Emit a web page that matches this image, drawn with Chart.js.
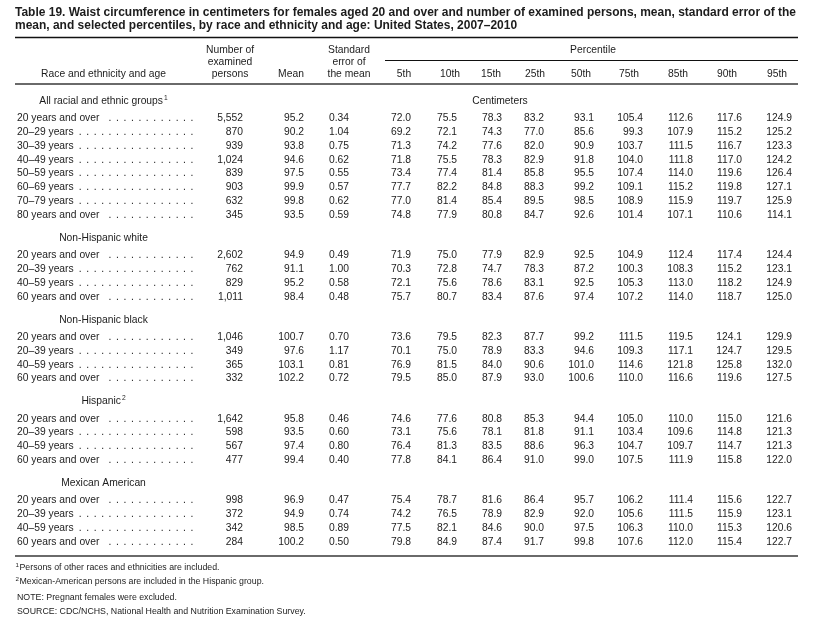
<!DOCTYPE html>
<html><head><meta charset="utf-8">
<script src="https://cdn.jsdelivr.net/npm/chart.js@4.4.1/dist/chart.umd.min.js"></script>
<style>html,body{margin:0;padding:0;background:#fff}canvas{display:block}</style>
</head><body>
<canvas id="c" width="817" height="621"></canvas>
<script>
// ---------------- DATA ----------------
const titleLines = [
  "Table 19. Waist circumference in centimeters for females aged 20 and over and number of examined persons, mean, standard error of the",
  "mean, and selected percentiles, by race and ethnicity and age: United States, 2007\u20132010"
];
const groupNames = ["All racial and ethnic groups", "Non-Hispanic white", "Non-Hispanic black", "Hispanic", "Mexican American"];
const groupNoteMarks = ["1", "", "", "2", ""];
const agesAll = ["20 years and over", "20\u201329 years", "30\u201339 years", "40\u201349 years", "50\u201359 years", "60\u201369 years", "70\u201379 years", "80 years and over"];
const agesBroad = ["20 years and over", "20\u201339 years", "40\u201359 years", "60 years and over"];
const groupAges = [agesAll, agesBroad, agesBroad, agesBroad, agesBroad];

const examined = [5552, 870, 939, 1024, 839, 903, 632, 345, 2602, 762, 829, 1011, 1046, 349, 365, 332, 1642, 598, 567, 477, 998, 372, 342, 284];
const mean = [95.2, 90.2, 93.8, 94.6, 97.5, 99.9, 99.8, 93.5, 94.9, 91.1, 95.2, 98.4, 100.7, 97.6, 103.1, 102.2, 95.8, 93.5, 97.4, 99.4, 96.9, 94.9, 98.5, 100.2];
const stdErr = [0.34, 1.04, 0.75, 0.62, 0.55, 0.57, 0.62, 0.59, 0.49, 1.00, 0.58, 0.48, 0.70, 1.17, 0.81, 0.72, 0.46, 0.60, 0.80, 0.40, 0.47, 0.74, 0.89, 0.50];
const p5 = [72.0, 69.2, 71.3, 71.8, 73.4, 77.7, 77.0, 74.8, 71.9, 70.3, 72.1, 75.7, 73.6, 70.1, 76.9, 79.5, 74.6, 73.1, 76.4, 77.8, 75.4, 74.2, 77.5, 79.8];
const p10 = [75.5, 72.1, 74.2, 75.5, 77.4, 82.2, 81.4, 77.9, 75.0, 72.8, 75.6, 80.7, 79.5, 75.0, 81.5, 85.0, 77.6, 75.6, 81.3, 84.1, 78.7, 76.5, 82.1, 84.9];
const p15 = [78.3, 74.3, 77.6, 78.3, 81.4, 84.8, 85.4, 80.8, 77.9, 74.7, 78.6, 83.4, 82.3, 78.9, 84.0, 87.9, 80.8, 78.1, 83.5, 86.4, 81.6, 78.9, 84.6, 87.4];
const p25 = [83.2, 77.0, 82.0, 82.9, 85.8, 88.3, 89.5, 84.7, 82.9, 78.3, 83.1, 87.6, 87.7, 83.3, 90.6, 93.0, 85.3, 81.8, 88.6, 91.0, 86.4, 82.9, 90.0, 91.7];
const p50 = [93.1, 85.6, 90.9, 91.8, 95.5, 99.2, 98.5, 92.6, 92.5, 87.2, 92.5, 97.4, 99.2, 94.6, 101.0, 100.6, 94.4, 91.1, 96.3, 99.0, 95.7, 92.0, 97.5, 99.8];
const p75 = [105.4, 99.3, 103.7, 104.0, 107.4, 109.1, 108.9, 101.4, 104.9, 100.3, 105.3, 107.2, 111.5, 109.3, 114.6, 110.0, 105.0, 103.4, 104.7, 107.5, 106.2, 105.6, 106.3, 107.6];
const p85 = [112.6, 107.9, 111.5, 111.8, 114.0, 115.2, 115.9, 107.1, 112.4, 108.3, 113.0, 114.0, 119.5, 117.1, 121.8, 116.6, 110.0, 109.6, 109.7, 111.9, 111.4, 111.5, 110.0, 112.0];
const p90 = [117.6, 115.2, 116.7, 117.0, 119.6, 119.8, 119.7, 110.6, 117.4, 115.2, 118.2, 118.7, 124.1, 124.7, 125.8, 119.6, 115.0, 114.8, 114.7, 115.8, 115.6, 115.9, 115.3, 115.4];
const p95 = [124.9, 125.2, 123.3, 124.2, 126.4, 127.1, 125.9, 114.1, 124.4, 123.1, 124.9, 125.0, 129.9, 129.5, 132.0, 127.5, 121.6, 121.3, 121.3, 122.0, 122.7, 123.1, 120.6, 122.7];

const labelHead = "Race and ethnicity and age";
const examinedHead = ["Number of", "examined", "persons"];
const meanHead = ["Mean"];
const stdErrHead = ["Standard", "error of", "the mean"];
const percentileHead = "Percentile";
const percentileLabels = ["5th", "10th", "15th", "25th", "50th", "75th", "85th", "90th", "95th"];
const unitLabel = "Centimeters";
const footnotes = [
  { mark: "1", text: "Persons of other races and ethnicities are included." },
  { mark: "2", text: "Mexican-American persons are included in the Hispanic group." },
  { mark: "",  text: "NOTE: Pregnant females were excluded." },
  { mark: "",  text: "SOURCE: CDC/NCHS, National Health and Nutrition Examination Survey." }
];

// ---------------- LAYOUT / STYLE ----------------
const FONT = '"Liberation Sans", Arial, Helvetica, sans-serif';
const L = {
  W: 817, H: 621,
  ink: '#1c1c1c',
  bodySize: 10.3,
  baseShift: 3.7,
  left: 15, right: 798,
  titleSize: 12, titleY: [16, 29.4], titleWidth: 781,
  topRuleY: 37.5, pctRuleY: 60.5, pctRuleX0: 385, headRuleY: 84, bottomRuleY: 556,
  headRowY: [49.5, 61.5, 73.3],
  labelHeadX: 103.5,
  examinedHeadX: 230, meanHeadX: 291, stdErrHeadX: 349,
  percentileHeadX: 593,
  pctHeadX: [404, 450, 491, 535, 581, 629, 678, 727, 777],
  unitX: 500,
  labelX: 17, groupX: 103.5, dotsEnd: 192, dotStep: 7.45,
  colRight: [243, 304, 349, 411, 457, 502, 544, 594, 643, 693, 742, 792],
  rowStartPx: 100, rowStepPx: 13.85, headToRow: 1.25, groupGap: 1.65,
  footSize: 8.8, footX: 19.5, footY: [567, 581, 596.5, 611]
};

// ---------------- BUILD ----------------
const fmt1 = v => v.toFixed(1);
const fmt2 = v => v.toFixed(2);
const fmtN = v => v.toLocaleString('en-US');
const columns = [
  { values: examined, f: fmtN }, { values: mean, f: fmt1 }, { values: stdErr, f: fmt2 },
  { values: p5, f: fmt1 }, { values: p10, f: fmt1 }, { values: p15, f: fmt1 }, { values: p25, f: fmt1 },
  { values: p50, f: fmt1 }, { values: p75, f: fmt1 }, { values: p85, f: fmt1 }, { values: p90, f: fmt1 }, { values: p95, f: fmt1 }
];

// row positions (in row units) derived from the group structure
const headUnits = [], rowUnits = [], rowLabels = [];
let u = 0;
groupAges.forEach((ages, g) => {
  headUnits.push(u);
  u += L.headToRow;
  ages.forEach(a => { rowUnits.push(u); rowLabels.push(a); u += 1; });
  u = u - 1 + L.groupGap;
});

const datasets = [];
datasets.push({ kind: 'group', align: 'center', data: headUnits.map(y => ({ x: L.groupX, y })), cellText: groupNames, marks: groupNoteMarks });
datasets.push({ kind: 'label', align: 'left', data: rowUnits.map(y => ({ x: L.labelX, y })), cellText: rowLabels });
columns.forEach((c, ci) => {
  datasets.push({ kind: 'cell', align: 'right', data: rowUnits.map((y, i) => ({ x: L.colRight[ci], y })), cellText: c.values.map(c.f) });
});
datasets.forEach(d => { d.pointRadius = 0; d.pointHoverRadius = 0; d.showLine = false; });

const yMin = -L.rowStartPx / L.rowStepPx;
const yMax = yMin + L.H / L.rowStepPx;

function hline(ctx, x0, x1, y, w, color) {
  ctx.save(); ctx.strokeStyle = color; ctx.lineWidth = w;
  ctx.beginPath(); ctx.moveTo(x0, y); ctx.lineTo(x1, y); ctx.stroke(); ctx.restore();
}

const tablePlugin = {
  id: 'tablePlugin',
  beforeDraw(chart) {
    const ctx = chart.ctx;
    ctx.save();
    ctx.fillStyle = '#fff'; ctx.fillRect(0, 0, L.W, L.H);
    ctx.fillStyle = L.ink;
    // title, condensed to the reference width
    ctx.font = `bold ${L.titleSize}px ${FONT}`;
    ctx.textAlign = 'left'; ctx.textBaseline = 'alphabetic';
    const sx = L.titleWidth / ctx.measureText(titleLines[0]).width;
    titleLines.forEach((t, i) => {
      ctx.save(); ctx.translate(L.left, L.titleY[i]); ctx.scale(sx, 1); ctx.fillText(t, 0, 0); ctx.restore();
    });
    // rules
    hline(ctx, L.left, L.right, L.topRuleY, 1.3, '#111');
    hline(ctx, L.pctRuleX0, L.right, L.pctRuleY, 1.1, '#111');
    hline(ctx, L.left, L.right, L.headRuleY, 2.2, '#6a6a6a');
    hline(ctx, L.left, L.right, L.bottomRuleY, 2.0, '#6a6a6a');
    // headers
    ctx.font = `${L.bodySize}px ${FONT}`;
    ctx.textAlign = 'center';
    const hy = L.headRowY.map(y => y + L.baseShift);
    ctx.fillText(labelHead, L.labelHeadX, hy[2]);
    examinedHead.forEach((t, i) => ctx.fillText(t, L.examinedHeadX, hy[i]));
    ctx.fillText(meanHead[0], L.meanHeadX, hy[2]);
    stdErrHead.forEach((t, i) => ctx.fillText(t, L.stdErrHeadX, hy[i]));
    ctx.fillText(percentileHead, L.percentileHeadX, hy[0]);
    percentileLabels.forEach((t, i) => ctx.fillText(t, L.pctHeadX[i], hy[2]));
    // unit line aligned with first group header
    const ys = chart.scales.y;
    ctx.fillText(unitLabel, L.unitX, ys.getPixelForValue(headUnits[0]) + L.baseShift);
    // footnotes
    ctx.textAlign = 'left';
    footnotes.forEach((fn, i) => {
      const y = L.footY[i] + 3.2;
      ctx.font = `${L.footSize}px ${FONT}`;
      if (fn.mark) {
        ctx.fillText(fn.text, L.footX, y);
        ctx.font = `${L.footSize * 0.7}px ${FONT}`;
        ctx.fillText(fn.mark, L.footX - 4, y - 3.5);
      } else {
        ctx.fillText(fn.text, L.footX - 2.5, y);
      }
    });
    ctx.restore();
  },
  afterDatasetsDraw(chart) {
    const ctx = chart.ctx;
    ctx.save();
    ctx.fillStyle = L.ink;
    ctx.textBaseline = 'alphabetic';
    chart.data.datasets.forEach((ds, di) => {
      const meta = chart.getDatasetMeta(di);
      meta.data.forEach((el, j) => {
        const text = ds.cellText[j];
        const y = el.y + L.baseShift;
        ctx.font = `${L.bodySize}px ${FONT}`;
        if (ds.kind === 'group') {
          const mark = ds.marks[j];
          const wMain = ctx.measureText(text).width;
          ctx.font = `${L.bodySize * 0.65}px ${FONT}`;
          const wMark = mark ? ctx.measureText(mark).width + 1 : 0;
          const x0 = el.x - (wMain + wMark) / 2;
          ctx.textAlign = 'left';
          ctx.font = `${L.bodySize}px ${FONT}`;
          ctx.fillText(text, x0, y);
          if (mark) {
            ctx.font = `${L.bodySize * 0.65}px ${FONT}`;
            ctx.fillText(mark, x0 + wMain + 1, y - 4);
          }
        } else if (ds.kind === 'label') {
          ctx.textAlign = 'left';
          ctx.fillText(text, el.x, y);
          const end = el.x + ctx.measureText(text).width;
          ctx.textAlign = 'center';
          for (let x = L.dotsEnd; x >= end + 6; x -= L.dotStep) ctx.fillText('.', x, y);
        } else {
          ctx.textAlign = 'right';
          ctx.fillText(text, el.x, y);
        }
      });
    });
    ctx.restore();
  }
};

new Chart(document.getElementById('c'), {
  type: 'scatter',
  data: { datasets },
  options: {
    responsive: false,
    animation: false,
    devicePixelRatio: 1,
    layout: { padding: 0 },
    events: [],
    plugins: { legend: { display: false }, tooltip: { enabled: false } },
    scales: {
      x: { type: 'linear', display: false, min: 0, max: L.W },
      y: { type: 'linear', display: false, reverse: true, min: yMin, max: yMax }
    }
  },
  plugins: [tablePlugin]
});
</script>
</body></html>
